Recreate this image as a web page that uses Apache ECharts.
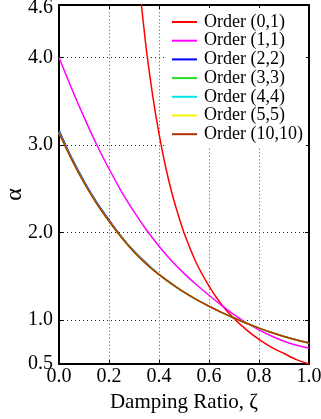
<!DOCTYPE html>
<html>
<head>
<meta charset="utf-8">
<script src="https://cdn.jsdelivr.net/npm/echarts@6/dist/echarts.min.js"></script>
<style>
  html, body { margin: 0; padding: 0; background: #fff; }
  #chart { width: 321px; height: 419px; }
</style>
</head>
<body>
<div id="chart"></div>
<script>
// damping ratio samples
const zeta = [0, 0.05, 0.1, 0.15, 0.2, 0.25, 0.3, 0.35, 0.4, 0.45, 0.5,
  0.55, 0.6, 0.65, 0.7, 0.75, 0.8, 0.85, 0.9, 0.95, 1.0]
const zetaOrder01 = [0.31, 0.32, 0.33, 0.34, 0.35, 0.375, 0.4, 0.425, 0.45, 0.475, 0.5,
  0.55, 0.6, 0.65, 0.7, 0.75, 0.8, 0.85, 0.9, 0.95, 1.0]

const order01 = [5.20, 4.88, 4.59, 4.33, 4.08, 3.56, 3.13, 2.77, 2.47, 2.22, 2.00,
  1.65, 1.39, 1.18, 1.02, 0.89, 0.78, 0.69, 0.62, 0.55, 0.50]
const order11 = [4.00, 3.65, 3.32, 3.01, 2.73, 2.47, 2.24, 2.03, 1.845, 1.68, 1.535,
  1.405, 1.285, 1.17, 1.065, 0.97, 0.89, 0.82, 0.76, 0.715, 0.68]
const order22 = [3.17, 2.86, 2.59, 2.35, 2.145, 1.955, 1.79, 1.65, 1.525, 1.42, 1.32,
  1.235, 1.16, 1.09, 1.025, 0.965, 0.91, 0.86, 0.815, 0.775, 0.74]
const order33 = [3.15, 2.845, 2.575, 2.34, 2.135, 1.95, 1.785, 1.645, 1.52, 1.415, 1.32,
  1.235, 1.16, 1.09, 1.025, 0.965, 0.91, 0.86, 0.815, 0.775, 0.74]
const order44 = [3.14, 2.84, 2.57, 2.335, 2.13, 1.945, 1.78, 1.64, 1.52, 1.415, 1.32,
  1.235, 1.16, 1.09, 1.025, 0.965, 0.91, 0.86, 0.815, 0.775, 0.74]
const order55 = [3.14, 2.84, 2.57, 2.335, 2.13, 1.945, 1.78, 1.64, 1.52, 1.415, 1.32,
  1.235, 1.16, 1.09, 1.025, 0.965, 0.91, 0.86, 0.815, 0.775, 0.74]
const order1010 = [3.14, 2.84, 2.57, 2.335, 2.13, 1.945, 1.78, 1.64, 1.52, 1.415, 1.32,
  1.235, 1.16, 1.09, 1.025, 0.965, 0.91, 0.86, 0.815, 0.775, 0.74]

const yTicks = [0.5, 1, 2, 3, 4, 4.6]
const yLabels = [0.5, 1, 2, 3, 4]
const yTopLabel = [4.6]

const names = ['Order (0,1)', 'Order (1,1)', 'Order (2,2)', 'Order (3,3)',
  'Order (4,4)', 'Order (5,5)', 'Order (10,10)']
const colors = ['#ff0000', '#ff00ff', '#0000ff', '#22dd22', '#00e5e5', '#f5f500', '#b03000']

const FONT = '"Liberation Serif", "DejaVu Serif", serif'

const pairs = (xs, ys) => xs.map((x, i) => [x, ys[i]])

const seriesData = [
  pairs(zetaOrder01, order01),
  pairs(zeta, order11),
  pairs(zeta, order22),
  pairs(zeta, order33),
  pairs(zeta, order44),
  pairs(zeta, order55),
  pairs(zeta, order1010)
]

const chart = echarts.init(document.getElementById('chart'))

const xBase = {
  type: 'value', min: 0, max: 1, interval: 0.2,
  axisLine: { show: true, onZero: false, lineStyle: { color: '#000', width: 2 } },
  axisTick: { show: true, inside: true, length: 4, lineStyle: { color: '#000' } },
  splitLine: { show: false }
}
const yBase = {
  type: 'value', min: 0.5, max: 4.6,
  axisLine: { show: true, onZero: false, lineStyle: { color: '#000', width: 2 } },
  axisTick: { show: true, inside: true, length: 4, customValues: yTicks, lineStyle: { color: '#000' } },
  splitLine: { show: false }
}

chart.setOption({
  animation: false,
  grid: { left: 59, right: 12, top: 5, bottom: 55, outerBoundsMode: 'none', containLabel: false },
  legend: {
    orient: 'vertical',
    left: 167, top: 8,
    padding: [5, 3, 4, 5],
    backgroundColor: '#fff',
    itemWidth: 25, itemHeight: 2, itemGap: 0.7,
    icon: 'rect',
    selectedMode: false,
    data: names,
    textStyle: { fontFamily: FONT, fontSize: 18, lineHeight: 18, color: '#000', padding: [0, 0, 0, 2] }
  },
  xAxis: [
    Object.assign({}, xBase, {
      position: 'bottom',
      name: 'Damping Ratio, ζ', nameLocation: 'middle', nameGap: 26,
      nameTextStyle: { fontFamily: FONT, fontSize: 21, color: '#000' },
      axisLabel: { fontFamily: FONT, fontSize: 20, color: '#000', margin: 3,
        formatter: v => v.toFixed(1) },
      splitLine: { show: true, lineStyle: { color: '#888', width: 1, type: [1.5, 2] } }
    }),
    Object.assign({}, xBase, { position: 'top', axisLabel: { show: false } })
  ],
  yAxis: [
    Object.assign({}, yBase, {
      position: 'left',
      name: 'α', nameLocation: 'middle', nameGap: 32, nameRotate: 90,
      nameMoveOverlap: false,
      nameTextStyle: { fontFamily: FONT, fontSize: 24, color: '#000', padding: [0, 20, 0, 0] },
      axisLabel: {
        fontFamily: FONT, fontSize: 20, color: '#000', margin: 6,
        customValues: yLabels, formatter: v => v.toFixed(1)
      },
      splitLine: { show: true, lineStyle: { color: '#222', width: 1, type: [1, 3] } }
    }),
    Object.assign({}, yBase, { position: 'right', axisLabel: { show: false } }),
    // extra left axis only for the top label, hung just below its tick
    {
      type: 'value', min: 0.5, max: 4.6, position: 'left',
      axisLine: { show: false }, axisTick: { show: false }, splitLine: { show: false },
      axisLabel: {
        fontFamily: FONT, fontSize: 20, lineHeight: 6, color: '#000', margin: 6,
        verticalAlign: 'top', customValues: yTopLabel, formatter: v => v.toFixed(1)
      }
    }
  ],
  series: names.map((name, i) => ({
    name: name,
    type: 'line',
    data: seriesData[i],
    xAxisIndex: 0, yAxisIndex: 0,
    showSymbol: false,
    smooth: 0.3,
    clip: true,
    color: colors[i],
    lineStyle: { color: colors[i], width: 1.5 }
  }))
})
</script>
</body>
</html>
